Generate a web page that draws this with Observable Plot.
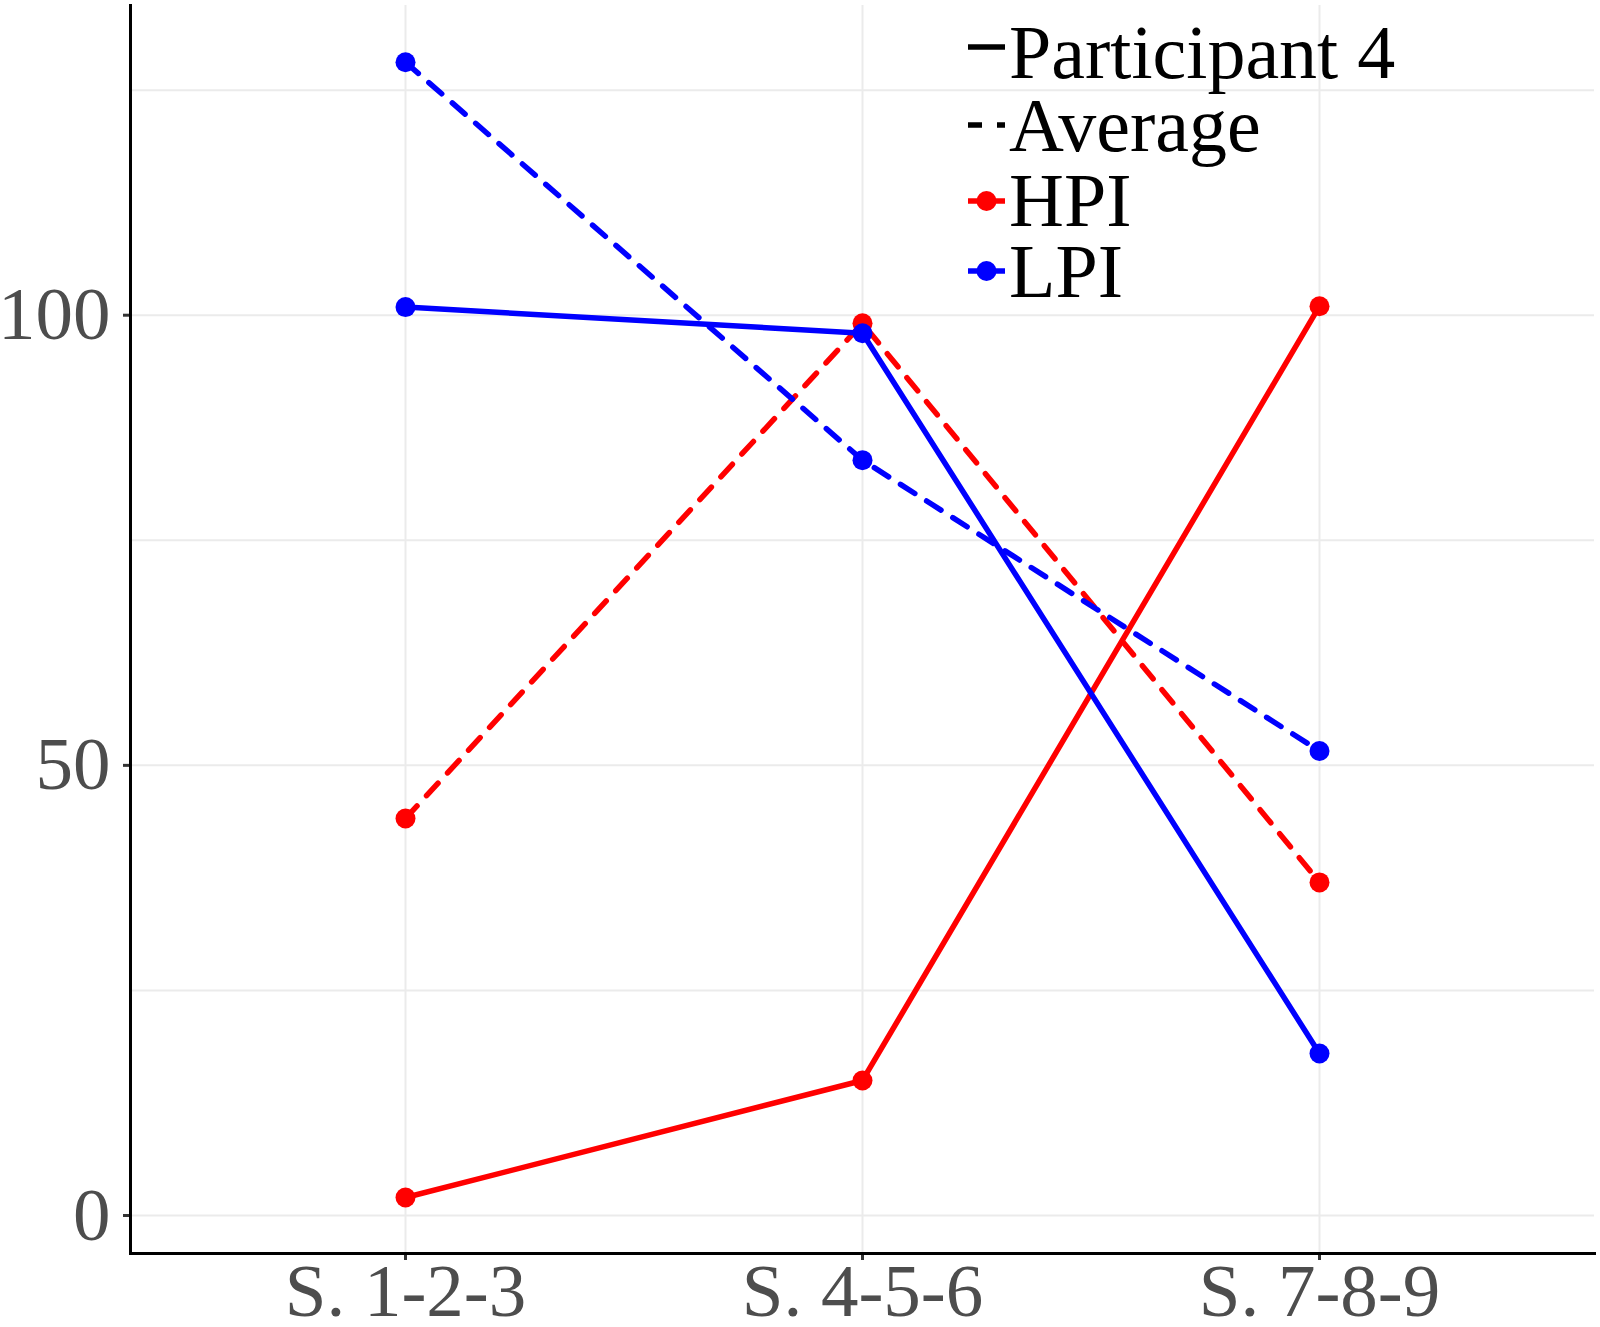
<!DOCTYPE html>
<html>
<head>
<meta charset="utf-8">
<script src="https://cdn.jsdelivr.net/npm/d3@7"></script>
<script src="https://cdn.jsdelivr.net/npm/@observablehq/plot@0.6"></script>
<style>
  html, body { margin: 0; padding: 0; background: #fff; }
  #wrap { position: relative; width: 1600px; height: 1327px; }
  #legend { position: absolute; left: 0; top: 0; pointer-events: none; }
</style>
</head>
<body>
<div id="wrap"></div>
<script>
// ---- data ----
const sessions = ["S. 1-2-3", "S. 4-5-6", "S. 7-8-9"];
const participantHPI = [2.0, 15.0, 101.0];
const participantLPI = [100.9, 98.0, 18.0];
const averageHPI = [44.1, 99.1, 37.0];
const averageLPI = [128.1, 83.9, 51.6];
const groups = ["HPI", "LPI"];
const groupColors = ["#ff0000", "#0000ff"];
const yTicks = [0, 50, 100];
const yGrid = [0, 25, 50, 75, 100, 125];
const legendLabels = ["Participant 4", "Average", "HPI", "LPI"];

function rows(values, group, type) {
  return values.map((v, i) => ({session: sessions[i], value: v, group, type}));
}
const participantRows = [
  ...rows(participantHPI, "HPI", "Participant 4"),
  ...rows(participantLPI, "LPI", "Participant 4")
];
const averageRows = [
  ...rows(averageHPI, "HPI", "Average"),
  ...rows(averageLPI, "LPI", "Average")
];
const allRows = [...averageRows.filter(d => d.group === "HPI"), ...participantRows.filter(d => d.group === "HPI"),
                 ...averageRows.filter(d => d.group === "LPI"), ...participantRows.filter(d => d.group === "LPI")];

const font = "'Liberation Serif', 'Times New Roman', serif";
const lineW = 5.5;
const dotR = 10;

const chart = Plot.plot({
  width: 1600,
  height: 1327,
  marginTop: 5,
  marginBottom: 74,
  marginLeft: 130,
  marginRight: 6,
  style: {fontFamily: font, fontSize: "75px", background: "white"},
  x: {type: "point", domain: sessions, padding: 0.6, label: null},
  y: {domain: [-4.22, 134.4], label: null},
  color: {domain: groups, range: groupColors},
  marks: [
    Plot.gridY(yGrid, {stroke: "#ebebeb", strokeOpacity: 1, strokeWidth: 2}),
    Plot.gridX(sessions, {stroke: "#ebebeb", strokeOpacity: 1, strokeWidth: 2}),
    // HPI lines first, then LPI
    Plot.line(averageRows.filter(d => d.group === "HPI"), {x: "session", y: "value", stroke: "group", strokeWidth: lineW, strokeDasharray: "17,14"}),
    Plot.line(participantRows.filter(d => d.group === "HPI"), {x: "session", y: "value", stroke: "group", strokeWidth: lineW}),
    Plot.line(averageRows.filter(d => d.group === "LPI"), {x: "session", y: "value", stroke: "group", strokeWidth: lineW, strokeDasharray: "17,14"}),
    Plot.line(participantRows.filter(d => d.group === "LPI"), {x: "session", y: "value", stroke: "group", strokeWidth: lineW}),
    Plot.dot(allRows, {x: "session", y: "value", fill: "group", r: dotR, stroke: null}),
    Plot.axisY({ticks: yTicks, tickSize: 7, tickPadding: 13, fontSize: 75, fill: "#4d4d4d", stroke: "#333333", strokeWidth: 3, label: null}),
    Plot.axisX({tickSize: 7, tickPadding: 2, fontSize: 75, fill: "#4d4d4d", stroke: "#333333", strokeWidth: 3, label: null}),
    Plot.frame({anchor: "left", stroke: "black", strokeWidth: 3}),
    Plot.frame({anchor: "bottom", stroke: "black", strokeWidth: 3})
  ]
});
document.getElementById("wrap").appendChild(chart);

// ---- legend ----
const leg = d3.select("#wrap").append("svg")
  .attr("id", "legend").attr("width", 1600).attr("height", 1327);
const keyX0 = 968, keyX1 = 1005, textX = 1009;
const keyY = [47, 125, 201, 271];
const baseY = [78, 151, 226, 297];
const keyStroke = ["#000", "#000", groupColors[0], groupColors[1]];
const keyDash = [null, "14,15", null, null];
legendLabels.forEach((lab, i) => {
  leg.append("line")
    .attr("x1", keyX0).attr("x2", keyX1).attr("y1", keyY[i]).attr("y2", keyY[i])
    .attr("stroke", keyStroke[i]).attr("stroke-width", 5.5)
    .attr("stroke-dasharray", keyDash[i]);
  if (i >= 2) {
    leg.append("circle").attr("cx", (keyX0 + keyX1) / 2).attr("cy", keyY[i]).attr("r", dotR)
      .attr("fill", keyStroke[i]);
  }
  leg.append("text")
    .attr("x", textX).attr("y", baseY[i])
    .attr("font-family", font).attr("font-size", 76).attr("fill", "#000")
    .text(lab);
});
</script>
</body>
</html>
